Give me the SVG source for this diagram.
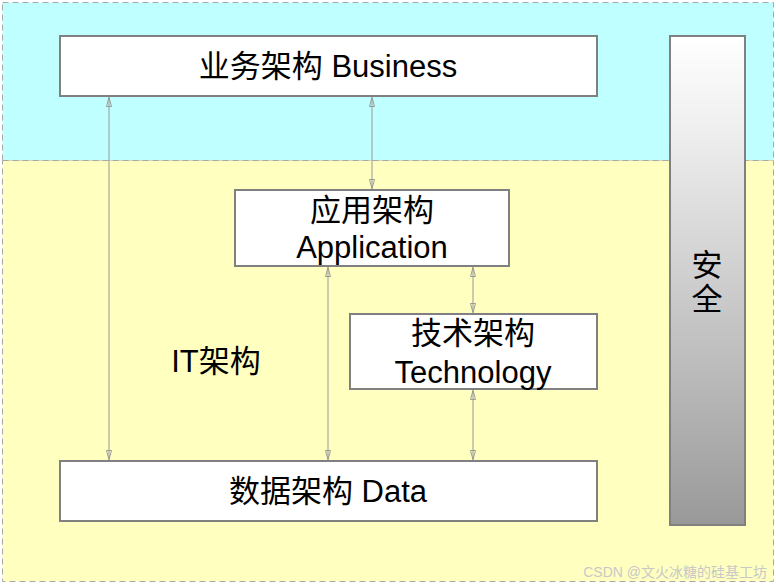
<svg xmlns="http://www.w3.org/2000/svg" width="776" height="584" viewBox="0 0 776 584">
<style>
.bg{stroke:#a8a8a8;stroke-width:1;stroke-dasharray:6 4}
.box{fill:#ffffff;stroke:#808080;stroke-width:2}
.t{font-family:"Liberation Sans","Noto Sans CJK SC",sans-serif;font-size:31px;fill:#000;text-anchor:middle}
.c{stroke:#999999;stroke-width:1;fill:none;marker-start:url(#ah);marker-end:url(#ah)}
</style>
<defs>
<marker id="ah" viewBox="0 0 10 6" refX="10" refY="3" markerWidth="10" markerHeight="6" markerUnits="userSpaceOnUse" orient="auto-start-reverse">
<path d="M0.5,0.5 L9.5,3 L0.5,5.5 z" fill="none" stroke="#999999" stroke-width="1"/>
</marker>
<linearGradient id="sg" x1="0" y1="0" x2="0" y2="1">
<stop offset="0" stop-color="#ffffff"/>
<stop offset="0.2" stop-color="#eeeeee"/>
<stop offset="1" stop-color="#999999"/>
</linearGradient>
</defs>
<g id="background">
<rect x="2.5" y="2.5" width="771" height="158" fill="#c0ffff" class="bg"/>
<rect x="2.5" y="160.5" width="771" height="421" fill="#ffffc0" class="bg"/>
</g>
<g id="connectors">
<line class="c" x1="109" y1="97" x2="109" y2="460"/>
<line class="c" x1="372" y1="97" x2="372" y2="189"/>
<line class="c" x1="328" y1="267" x2="328" y2="460"/>
<line class="c" x1="473" y1="267" x2="473" y2="313"/>
<line class="c" x1="473" y1="390" x2="473" y2="460"/>
</g>
<g id="business">
<rect class="box" x="60" y="36" width="537" height="60"/>
<text class="t" x="328" y="77">业务架构 Business</text>
</g>
<g id="application">
<rect class="box" x="235" y="190" width="274" height="76"/>
<text class="t" x="372" y="221">应用架构</text>
<text class="t" x="372" y="258">Application</text>
</g>
<g id="technology">
<rect class="box" x="350" y="314" width="247" height="75"/>
<text class="t" x="473" y="344">技术架构</text>
<text class="t" x="473" y="383">Technology</text>
</g>
<g id="data">
<rect class="box" x="60" y="461" width="537" height="60"/>
<text class="t" x="328" y="502">数据架构 Data</text>
</g>
<g id="security">
<rect x="670" y="36" width="75" height="489" fill="url(#sg)" stroke="#808080" stroke-width="2"/>
<text class="t" x="707" y="276">安</text>
<text class="t" x="707" y="310">全</text>
</g>
<g id="it-label">
<text class="t" x="216" y="372">IT架构</text>
</g>
<text x="767" y="577" font-family="'Liberation Sans','Noto Sans CJK SC',sans-serif" font-size="14" fill="#c8c8c8" text-anchor="end">CSDN @文火冰糖的硅基工坊</text>
</svg>
